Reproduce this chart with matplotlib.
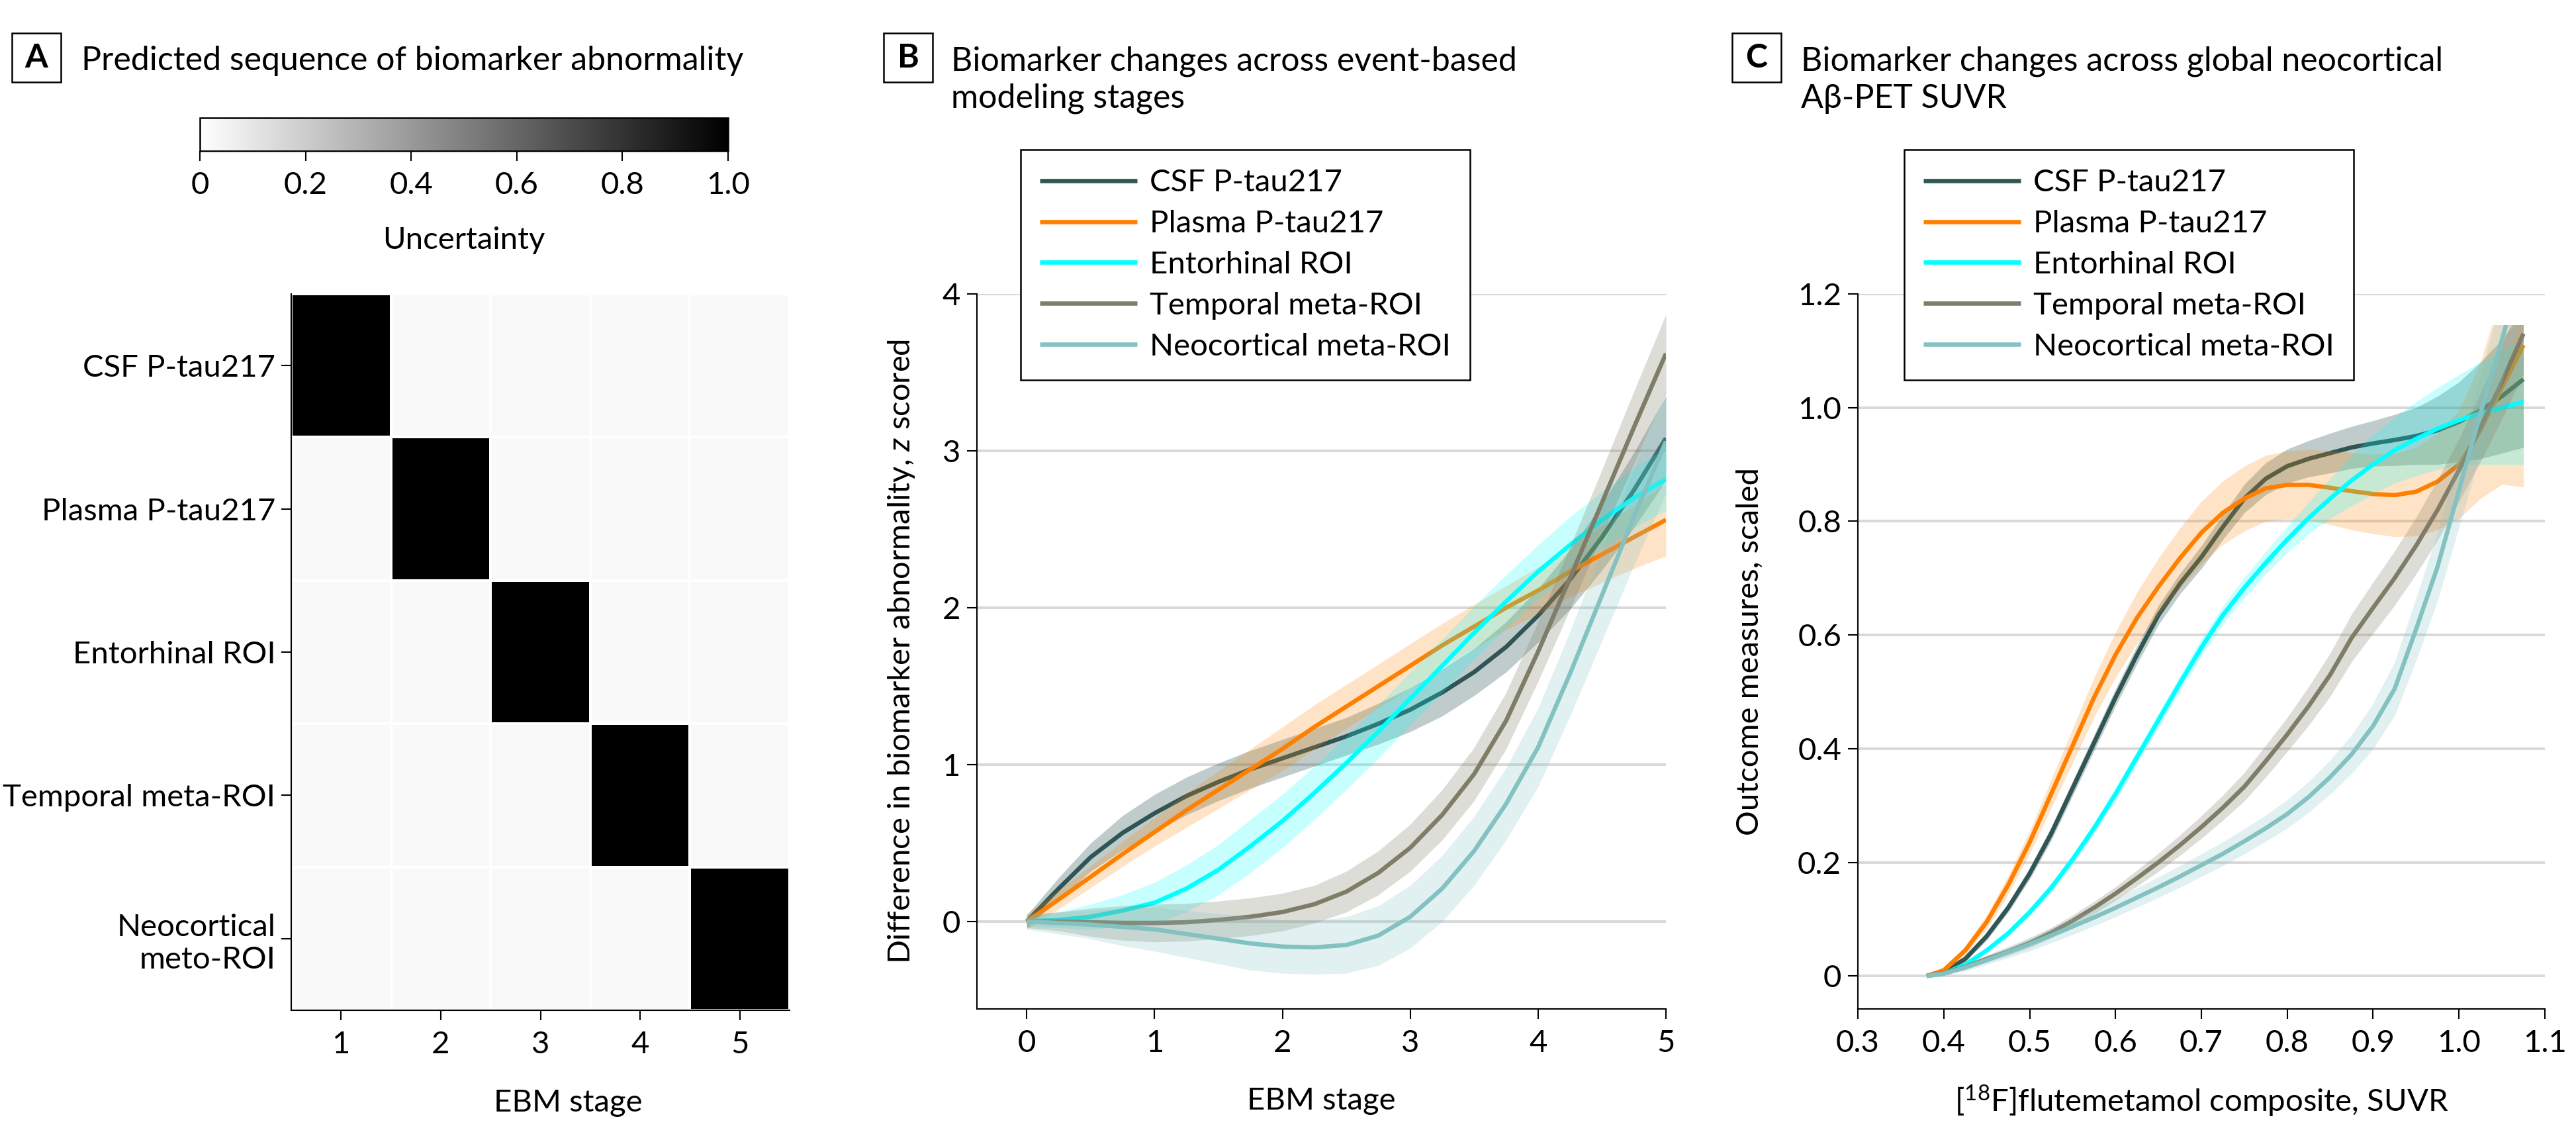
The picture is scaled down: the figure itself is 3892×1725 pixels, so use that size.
import numpy as np
import matplotlib
matplotlib.use("Agg")
import matplotlib.pyplot as plt
from matplotlib.patches import Rectangle

# ---------------- data ----------------
# Panel A
biomarkers_A = ["CSF P-tau217", "Plasma P-tau217", "Entorhinal ROI",
                "Temporal meta-ROI", "Neocortical\nmeto-ROI"]
ebm_stages_A = [1, 2, 3, 4, 5]
uncertainty = [
    [1.0, 0.025, 0.025, 0.025, 0.025],
    [0.025, 1.0, 0.025, 0.025, 0.025],
    [0.025, 0.025, 1.0, 0.025, 0.025],
    [0.025, 0.025, 0.025, 1.0, 0.025],
    [0.025, 0.025, 0.025, 0.025, 1.0],
]
cbar_ticks = [0, 0.2, 0.4, 0.6, 0.8, 1.0]
cbar_ticklabels = ["0", "0.2", "0.4", "0.6", "0.8", "1.0"]

series_names = ["CSF P-tau217", "Plasma P-tau217", "Entorhinal ROI",
                "Temporal meta-ROI", "Neocortical meta-ROI"]
series_colors = ["#2f5654", "#ff8000", "#00ffff", "#7f7d68", "#84c2c2"]
band_alpha = [0.30, 0.22, 0.22, 0.26, 0.24]

# Panel B
stage_B = [0, 0.25, 0.5, 0.75, 1.0, 1.25, 1.5, 1.75, 2.0, 2.25, 2.5, 2.75,
           3.0, 3.25, 3.5, 3.75, 4.0, 4.25, 4.5, 4.75, 5.0]
csf_B = [0.00, 0.21, 0.41, 0.565, 0.69, 0.80, 0.89, 0.97, 1.04, 1.11, 1.18, 1.26,
         1.35, 1.46, 1.59, 1.75, 1.95, 2.18, 2.45, 2.75, 3.08]
plasma_B = [0.00, 0.14, 0.285, 0.43, 0.57, 0.71, 0.84, 0.97, 1.10, 1.24, 1.37, 1.50,
            1.63, 1.76, 1.88, 2.00, 2.11, 2.23, 2.34, 2.45, 2.56]
ento_B = [0.00, 0.01, 0.03, 0.07, 0.12, 0.21, 0.33, 0.48, 0.64, 0.82, 1.01, 1.21,
          1.42, 1.63, 1.84, 2.04, 2.23, 2.40, 2.56, 2.70, 2.82]
temporal_B = [0.00, 0.00, -0.005, -0.01, -0.01, -0.005, 0.01, 0.03, 0.06, 0.11, 0.19, 0.31,
              0.47, 0.68, 0.94, 1.28, 1.72, 2.19, 2.67, 3.15, 3.62]
neo_B = [0.00, -0.01, -0.02, -0.035, -0.05, -0.08, -0.11, -0.14, -0.16, -0.165, -0.15, -0.09,
         0.03, 0.21, 0.45, 0.75, 1.11, 1.58, 2.08, 2.58, 3.06]
csf_B_hw = [0.04, 0.07, 0.09, 0.11, 0.12, 0.12, 0.12, 0.12, 0.12, 0.12, 0.12, 0.13,
            0.14, 0.15, 0.15, 0.16, 0.17, 0.19, 0.21, 0.24, 0.27]
plasma_B_hw = [0.05, 0.06, 0.07, 0.08, 0.09, 0.11, 0.12, 0.13, 0.14, 0.14, 0.14, 0.14,
               0.14, 0.14, 0.14, 0.14, 0.15, 0.16, 0.18, 0.20, 0.23]
ento_B_hw = [0.03, 0.05, 0.08, 0.10, 0.13, 0.15, 0.16, 0.17, 0.17, 0.17, 0.17, 0.17,
             0.17, 0.17, 0.17, 0.17, 0.17, 0.18, 0.18, 0.19, 0.20]
temporal_B_hw = [0.04, 0.06, 0.09, 0.11, 0.12, 0.12, 0.12, 0.12, 0.12, 0.12, 0.13, 0.14,
                 0.15, 0.16, 0.17, 0.18, 0.19, 0.20, 0.21, 0.23, 0.25]
neo_B_hw = [0.05, 0.07, 0.09, 0.12, 0.14, 0.15, 0.16, 0.17, 0.17, 0.17, 0.18, 0.19,
            0.20, 0.21, 0.22, 0.23, 0.25, 0.27, 0.29, 0.31, 0.33]
xticks_B = [0, 1, 2, 3, 4, 5]
yticks_B = [0, 1, 2, 3, 4]

# Panel C
suvr_C = [0.38, 0.40, 0.425, 0.45, 0.475, 0.50, 0.525, 0.55, 0.575, 0.60, 0.625, 0.65,
          0.675, 0.70, 0.725, 0.75, 0.775, 0.80, 0.825, 0.85, 0.875, 0.90, 0.925, 0.95,
          0.975, 1.00, 1.025, 1.05, 1.075]
csf_C = [0.0, 0.007, 0.03, 0.07, 0.12, 0.18, 0.25, 0.33, 0.41, 0.49, 0.565, 0.635,
         0.69, 0.737, 0.79, 0.84, 0.875, 0.897, 0.91, 0.92, 0.93, 0.937, 0.943, 0.95,
         0.96, 0.975, 0.995, 1.02, 1.05]
plasma_C = [0.0, 0.01, 0.045, 0.095, 0.16, 0.235, 0.32, 0.405, 0.49, 0.565, 0.63, 0.685,
            0.735, 0.78, 0.815, 0.84, 0.858, 0.864, 0.864, 0.859, 0.853, 0.848, 0.846, 0.852,
            0.87, 0.90, 0.96, 1.035, 1.11]
ento_C = [0.0, 0.004, 0.02, 0.045, 0.075, 0.112, 0.155, 0.205, 0.26, 0.32, 0.385, 0.45,
          0.515, 0.578, 0.635, 0.683, 0.727, 0.768, 0.806, 0.84, 0.872, 0.90, 0.925, 0.945,
          0.963, 0.978, 0.99, 1.0, 1.01]
temporal_C = [0.0, 0.005, 0.016, 0.03, 0.043, 0.058, 0.076, 0.097, 0.12, 0.145, 0.172, 0.20,
              0.23, 0.262, 0.296, 0.333, 0.378, 0.425, 0.475, 0.53, 0.595, 0.648, 0.70, 0.757,
              0.82, 0.89, 0.965, 1.045, 1.13]
neo_C = [0.0, 0.004, 0.015, 0.028, 0.042, 0.056, 0.071, 0.087, 0.103, 0.12, 0.138, 0.156,
         0.175, 0.195, 0.215, 0.237, 0.26, 0.285, 0.315, 0.35, 0.39, 0.44, 0.505, 0.61,
         0.72, 0.855, 0.99, 1.12, 1.25]
csf_C_hw = [0.0, 0.003, 0.005, 0.007, 0.008, 0.01, 0.012, 0.013, 0.014, 0.015, 0.016, 0.017,
            0.018, 0.02, 0.022, 0.025, 0.028, 0.03, 0.032, 0.035, 0.037, 0.04, 0.045, 0.05,
            0.06, 0.07, 0.085, 0.10, 0.12]
plasma_C_hw = [0.0, 0.004, 0.008, 0.012, 0.016, 0.02, 0.025, 0.03, 0.035, 0.04, 0.045, 0.05,
               0.053, 0.055, 0.056, 0.057, 0.058, 0.06, 0.062, 0.065, 0.068, 0.07, 0.073, 0.078,
               0.085, 0.095, 0.12, 0.17, 0.25]
ento_C_hw = [0.0, 0.002, 0.004, 0.005, 0.006, 0.007, 0.008, 0.009, 0.01, 0.011, 0.012, 0.013,
             0.014, 0.015, 0.016, 0.018, 0.02, 0.023, 0.028, 0.035, 0.045, 0.052, 0.058, 0.065,
             0.072, 0.08, 0.09, 0.10, 0.11]
temporal_C_hw = [0.0, 0.003, 0.005, 0.006, 0.007, 0.008, 0.009, 0.01, 0.011, 0.012, 0.014, 0.016,
                 0.018, 0.02, 0.022, 0.025, 0.028, 0.03, 0.034, 0.038, 0.042, 0.045, 0.048, 0.05,
                 0.053, 0.055, 0.06, 0.065, 0.07]
neo_C_hw = [0.0, 0.003, 0.006, 0.008, 0.01, 0.012, 0.013, 0.014, 0.015, 0.016, 0.017, 0.018,
            0.019, 0.02, 0.021, 0.022, 0.023, 0.025, 0.027, 0.03, 0.034, 0.04, 0.047, 0.055,
            0.06, 0.065, 0.07, 0.075, 0.08]
xticks_C = [0.3, 0.4, 0.5, 0.6, 0.7, 0.8, 0.9, 1.0, 1.1]
xticklabels_C = ["0.3", "0.4", "0.5", "0.6", "0.7", "0.8", "0.9", "1.0", "1.1"]
yticks_C = [0, 0.2, 0.4, 0.6, 0.8, 1.0, 1.2]
yticklabels_C = ["0", "0.2", "0.4", "0.6", "0.8", "1.0", "1.2"]

# ---------------- style ----------------
W, H, DPI = 3892, 1725, 100
FS = 34
FS_TITLE = 36
plt.rcParams["font.family"] = ["Lato", "DejaVu Sans"]
plt.rcParams["mathtext.fontset"] = "custom"
plt.rcParams["mathtext.rm"] = "Lato"
plt.rcParams["mathtext.it"] = "Lato:italic"
plt.rcParams["font.size"] = FS
GRID = "#d9d9d9"
LW = 4.7

fig = plt.figure(figsize=(W / DPI, H / DPI), dpi=DPI)


def rect(x0, y0, x1, y1):
    return [x0 / W, 1 - y1 / H, (x1 - x0) / W, (y1 - y0) / H]


def fx(x):
    return x / W


def fy(y):
    return 1 - y / H


def style_axes(ax):
    for s in ["top", "right"]:
        ax.spines[s].set_visible(False)
    for s in ["left", "bottom"]:
        ax.spines[s].set_linewidth(1.5)
        ax.spines[s].set_color("black")
    ax.tick_params(axis="both", direction="out", length=11, width=1.5,
                   labelsize=FS, colors="black")
    ax.tick_params(axis="x", pad=11)
    ax.tick_params(axis="y", pad=7)


def panel_title(xbox, letter, xtext, lines):
    box = Rectangle((fx(xbox), fy(124)), 74 / W, 74 / H, transform=fig.transFigure,
                    fill=False, edgecolor="black", linewidth=1.8)
    fig.add_artist(box)
    fig.text(fx(xbox + 37), fy(87), letter, fontsize=FS_TITLE, fontweight="bold",
             ha="center", va="center")
    for i, line in enumerate(lines):
        fig.text(fx(xtext), fy(106 + 57 * i), line, fontsize=FS_TITLE, ha="left",
                 va="baseline")


# ---------------- Panel A ----------------
ax_a = fig.add_axes(rect(440, 444, 1193, 1526))
xe = np.arange(len(ebm_stages_A) + 1) + 0.5
ye = np.arange(len(biomarkers_A) + 1) - 0.5
mesh = ax_a.pcolormesh(xe, ye, np.array(uncertainty), cmap="gray_r", vmin=0, vmax=1,
                       edgecolors="white", linewidth=1.5)
ax_a.set_xlim(0.5, 5.5)
ax_a.set_ylim(4.5, -0.5)
ax_a.set_xticks(ebm_stages_A)
ax_a.set_xticklabels([str(s) for s in ebm_stages_A])
ax_a.set_yticks(range(len(biomarkers_A)))
ax_a.set_yticklabels(biomarkers_A)
style_axes(ax_a)
ax_a.tick_params(axis="y", pad=6)
ax_a.set_xlabel("EBM stage", fontsize=FS)
ax_a.xaxis.set_label_coords((858 - 440) / (1193 - 440), -(1666 - 1526) / (1526 - 444))
ax_a.xaxis.label.set_va("center")

cax = fig.add_axes(rect(302, 178, 1100, 228))
cb = fig.colorbar(mesh, cax=cax, orientation="horizontal", ticks=cbar_ticks)
cb.set_ticklabels(cbar_ticklabels)
cb.outline.set_linewidth(1.8)
cax.tick_params(axis="x", direction="out", length=11, width=1.5, labelsize=FS, pad=11)
cax.set_xlabel("Uncertainty", fontsize=FS)
cax.xaxis.set_label_coords(0.5, -(363 - 228) / 50)
cax.xaxis.label.set_va("center")

panel_title(18, "A", 123, ["Predicted sequence of biomarker abnormality"])

# ---------------- Panel B ----------------
ax_b = fig.add_axes(rect(1476, 444, 2517, 1524))
ax_b.set_xlim(-0.39, 5.0)
ax_b.set_ylim(-0.5575, 4.0)
for t in yticks_B:
    ax_b.axhline(t, color=GRID, linewidth=2.9, zorder=0)
B_series = [(csf_B, csf_B_hw), (plasma_B, plasma_B_hw), (ento_B, ento_B_hw),
            (temporal_B, temporal_B_hw), (neo_B, neo_B_hw)]
sb = np.array(stage_B)
handles_b = []
for (vals, hw), name, col, al in zip(B_series, series_names, series_colors, band_alpha):
    v = np.array(vals)
    h = np.array(hw)
    ln, = ax_b.plot(sb, v, color=col, linewidth=LW, label=name, solid_capstyle="butt",
                    solid_joinstyle="round", zorder=2)
    ax_b.fill_between(sb, v - h, v + h, color=col, alpha=al, linewidth=0, zorder=2)
    handles_b.append(ln)
ax_b.set_xticks(xticks_B)
ax_b.set_yticks(yticks_B)
style_axes(ax_b)
ax_b.set_xlabel("EBM stage", fontsize=FS)
ax_b.xaxis.set_label_coords(0.5, -(1663 - 1524) / (1524 - 444))
ax_b.xaxis.label.set_va("center")
ax_b.set_ylabel("Difference in biomarker abnormality, $\\mathit{z}$ scored", fontsize=FS)
ax_b.yaxis.set_label_coords(-(1476 - 1362) / (2517 - 1476), 0.5)
ax_b.yaxis.label.set_va("center")

leg_kw = dict(loc="upper left", bbox_transform=fig.transFigure, frameon=True,
              fancybox=False, edgecolor="black", framealpha=1, fontsize=FS,
              handlelength=3.1, handletextpad=0.4, labelspacing=0.42,
              borderpad=0.62, borderaxespad=0)
leg_b = ax_b.legend(handles=handles_b, bbox_to_anchor=(fx(1542), fy(226)), **leg_kw)
leg_b.get_frame().set_linewidth(1.8)
for lh in leg_b.get_lines():
    lh.set_linewidth(LW)

panel_title(1335, "B", 1437, ["Biomarker changes across event-based", "modeling stages"])

# ---------------- Panel C ----------------
ax_c = fig.add_axes(rect(2807, 444, 3845, 1524))
ax_c.set_xlim(0.3, 1.1)
ax_c.set_ylim(-0.058, 1.2)
for t in yticks_C:
    ax_c.axhline(t, color=GRID, linewidth=2.9, zorder=0)
clip_top = 1.145
clip_rect = Rectangle((0.3, -0.058), 0.8, clip_top + 0.058, transform=ax_c.transData,
                      facecolor="none", edgecolor="none")
ax_c.add_patch(clip_rect)
C_series = [(csf_C, csf_C_hw), (plasma_C, plasma_C_hw), (ento_C, ento_C_hw),
            (temporal_C, temporal_C_hw), (neo_C, neo_C_hw)]
sc = np.array(suvr_C)
handles_c = []
for (vals, hw), name, col, al in zip(C_series, series_names, series_colors, band_alpha):
    v = np.array(vals)
    h = np.array(hw)
    ln, = ax_c.plot(sc, v, color=col, linewidth=LW, label=name, solid_capstyle="butt",
                    solid_joinstyle="round", zorder=2)
    fb = ax_c.fill_between(sc, v - h, v + h, color=col, alpha=al, linewidth=0, zorder=2)
    ln.set_clip_path(clip_rect)
    fb.set_clip_path(clip_rect)
    handles_c.append(ln)
ax_c.set_xticks(xticks_C)
ax_c.set_xticklabels(xticklabels_C)
ax_c.set_yticks(yticks_C)
ax_c.set_yticklabels(yticklabels_C)
style_axes(ax_c)
ax_c.set_xlabel("[$^{18}$F]flutemetamol composite, SUVR", fontsize=FS)
ax_c.xaxis.set_label_coords(0.5, -(1663 - 1524) / (1524 - 444))
ax_c.xaxis.label.set_va("center")
ax_c.set_ylabel("Outcome measures, scaled", fontsize=FS)
ax_c.yaxis.set_label_coords(-(2807 - 2644) / (3845 - 2807), 0.5)
ax_c.yaxis.label.set_va("center")
leg_c = ax_c.legend(handles=handles_c, bbox_to_anchor=(fx(2877), fy(226)), **leg_kw)
leg_c.get_frame().set_linewidth(1.8)
for lh in leg_c.get_lines():
    lh.set_linewidth(LW)

panel_title(2617, "C", 2721, ["Biomarker changes across global neocortical", "A\u03b2-PET SUVR"])

fig.savefig("out.png", dpi=DPI, facecolor="white")
